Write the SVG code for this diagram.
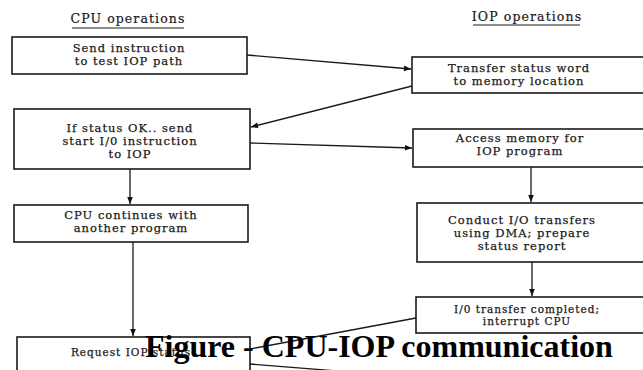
<svg xmlns="http://www.w3.org/2000/svg" width="643" height="370" viewBox="0 0 643 370">
<defs>
<marker id="ah" viewBox="0 0 10 10" refX="10" refY="5" markerWidth="9" markerHeight="7" markerUnits="userSpaceOnUse" orient="auto">
<path d="M0,1 L10,5 L0,9 Z" fill="#111"/>
</marker>
<style>
.box{fill:#fff;stroke:#1a1a1a;stroke-width:1.6}
.t{font-family:"DejaVu Serif",serif;font-size:11.5px;letter-spacing:1px;fill:#1a1a1a;stroke:#1a1a1a;stroke-width:0.25;text-anchor:middle}
.s{font-size:10.5px;letter-spacing:1px}
.h{font-family:"DejaVu Serif",serif;font-size:12.5px;letter-spacing:1.1px;fill:#1a1a1a;stroke:#1a1a1a;stroke-width:0.2;text-anchor:middle}
.c{fill:none;stroke:#1a1a1a;stroke-width:1.3}
.cap{font-family:"Liberation Serif",serif;font-weight:bold;font-size:32px;fill:#000}
</style>
</defs>
<rect width="643" height="370" fill="#fff"/>
<g id="headers">
<text class="h" x="128" y="23">CPU operations</text>
<line x1="72" y1="28" x2="184" y2="28" stroke="#1a1a1a" stroke-width="1"/>
<text class="h" x="527" y="21">IOP operations</text>
<line x1="473" y1="25" x2="580" y2="25" stroke="#1a1a1a" stroke-width="1"/>
</g>
<g id="connectors">
<line class="c" x1="247" y1="55" x2="411" y2="69" marker-end="url(#ah)"/>
<line class="c" x1="412" y1="86" x2="251" y2="127" marker-end="url(#ah)"/>
<line class="c" x1="250" y1="143" x2="412" y2="148" marker-end="url(#ah)"/>
<line class="c" x1="130" y1="169" x2="130" y2="204" marker-end="url(#ah)"/>
<line class="c" x1="133" y1="242" x2="133" y2="336" marker-end="url(#ah)"/>
<line class="c" x1="531" y1="167" x2="531" y2="202" marker-end="url(#ah)"/>
<line class="c" x1="532" y1="262" x2="532" y2="296" marker-end="url(#ah)"/>
<line class="c" x1="416" y1="318" x2="250" y2="349"/>
<line class="c" x1="250" y1="364" x2="400" y2="376"/>
</g>
<g id="n1">
<rect class="box" x="12" y="37" width="235" height="37"/>
<text class="t" x="129" y="52">Send instruction</text>
<text class="t" x="129" y="65">to test IOP path</text>
</g>
<g id="n2">
<rect class="box" x="14" y="109" width="236" height="60"/>
<text class="t" x="130" y="132">If status OK.. send</text>
<text class="t" x="130" y="145">start I/0 instruction</text>
<text class="t" x="130" y="158">to IOP</text>
</g>
<g id="n3">
<rect class="box" x="14" y="205" width="234" height="37"/>
<text class="t" x="131" y="219">CPU continues with</text>
<text class="t" x="131" y="232">another program</text>
</g>
<g id="n4">
<rect class="box" x="17" y="337" width="233" height="45"/>
<text class="t s" x="131" y="356">Request IOP status</text>
</g>
<g id="nA">
<rect class="box" x="412" y="57" width="240" height="36"/>
<text class="t" x="519" y="72">Transfer status word</text>
<text class="t" x="519" y="85">to memory location</text>
</g>
<g id="nB">
<rect class="box" x="413" y="129" width="240" height="38"/>
<text class="t" x="520" y="142">Access memory for</text>
<text class="t" x="520" y="155">IOP program</text>
</g>
<g id="nC">
<rect class="box" x="417" y="203" width="240" height="59"/>
<text class="t" x="522" y="224">Conduct I/O transfers</text>
<text class="t" x="522" y="237">using DMA; prepare</text>
<text class="t" x="522" y="250">status report</text>
</g>
<g id="nD">
<rect class="box" x="416" y="297" width="240" height="36"/>
<text class="t s" x="527" y="313">I/0 transfer completed;</text>
<text class="t s" x="527" y="325">interrupt CPU</text>
</g>
<text class="cap" x="145" y="357">Figure - CPU-IOP communication</text>
</svg>
